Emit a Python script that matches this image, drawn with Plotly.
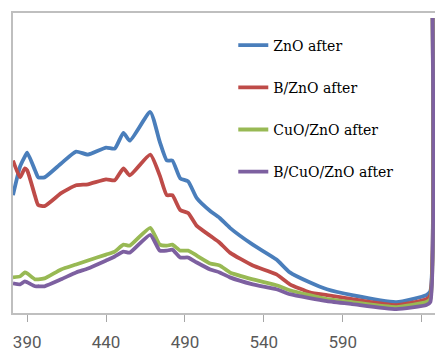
import plotly.graph_objects as go

wavelength = [381, 385.5, 388.5, 390, 395, 397, 401, 411.5, 421, 428.5, 440, 445.5, 451, 455,
              468, 474, 478.5, 482, 487, 492, 497.5, 506, 512, 518.5, 533, 548, 556.5, 569,
              580, 596, 624, 643, 645.5, 647]

zno_px = [197, 168, 158, 154, 172, 179, 179, 165, 153, 156, 149, 150, 134, 142,
          113, 143, 162, 162, 180, 183, 200, 213, 220, 230, 247, 262, 275, 285,
          292, 298, 305, 298, 294, 18]
bzno_px = [162, 179, 170, 172, 198, 207, 208, 195, 187, 186, 181, 182, 170, 177,
           156, 177, 197, 197, 212, 215, 228, 238, 245, 255, 268, 277, 287, 295,
           298, 302, 308, 302, 298, 18]
cuozno_px = [280, 279, 275, 276, 282, 282, 281, 272, 267, 263, 257, 254, 247, 248,
             230, 247, 248, 247, 253, 253, 258, 266, 268, 275, 282, 288, 293, 298,
             302, 305, 310, 305, 302, 18]
bcuozno_px = [286, 287, 284, 285, 289, 289, 289, 282, 275, 271, 263, 259, 254, 255,
              237, 253, 253, 252, 260, 260, 265, 272, 275, 280, 287, 292, 297, 301,
              304, 307, 312, 308, 305, 18]

# intensity (arbitrary units)
zno = [316 - v for v in zno_px]
bzno = [316 - v for v in bzno_px]
cuozno = [316 - v for v in cuozno_px]
bcuozno = [316 - v for v in bcuozno_px]

names = ["ZnO after", "B/ZnO after", "CuO/ZnO after", "B/CuO/ZnO after"]
colors = ["#4A7EBB", "#BE4B48", "#98B954", "#7D60A0"]
series = [zno, bzno, cuozno, bcuozno]
tick_vals = [390, 440, 490, 540, 590, 640]

fig = go.Figure()
for name, col, ys in zip(names, colors, series):
    fig.add_trace(go.Scatter(x=wavelength, y=ys, mode="lines", name=name,
                             legendgroup=name,
                             line=dict(color=col, width=3.8, shape="spline", smoothing=0.5)))

fig.update_layout(
    width=435, height=352,
    margin=dict(l=13, r=0, t=13, b=36),
    paper_bgcolor="white", plot_bgcolor="white",
    showlegend=True,
    legend=dict(x=0.522, y=0.945, xanchor="left", yanchor="top",
                font=dict(family="DejaVu Serif", size=14, color="#000000"),
                bgcolor="rgba(0,0,0,0)", tracegroupgap=21),
    xaxis=dict(range=[381, 648.5], tickvals=tick_vals, ticks="outside", ticklen=7,
               tickcolor="#A6A6A6", showline=True, linecolor="#BFBFBF", linewidth=1.5,
               mirror=True, showgrid=False, zeroline=False, ticklabelstandoff=6,
               tickfont=dict(family="Liberation Sans Narrow, Roboto, sans-serif", size=17,
                             color="#595959")),
    yaxis=dict(range=[0, 303], showticklabels=False, ticks="", showline=True,
               linecolor="#BFBFBF", linewidth=1.5, showgrid=False, zeroline=False),
)

fig.write_html("out.html")
